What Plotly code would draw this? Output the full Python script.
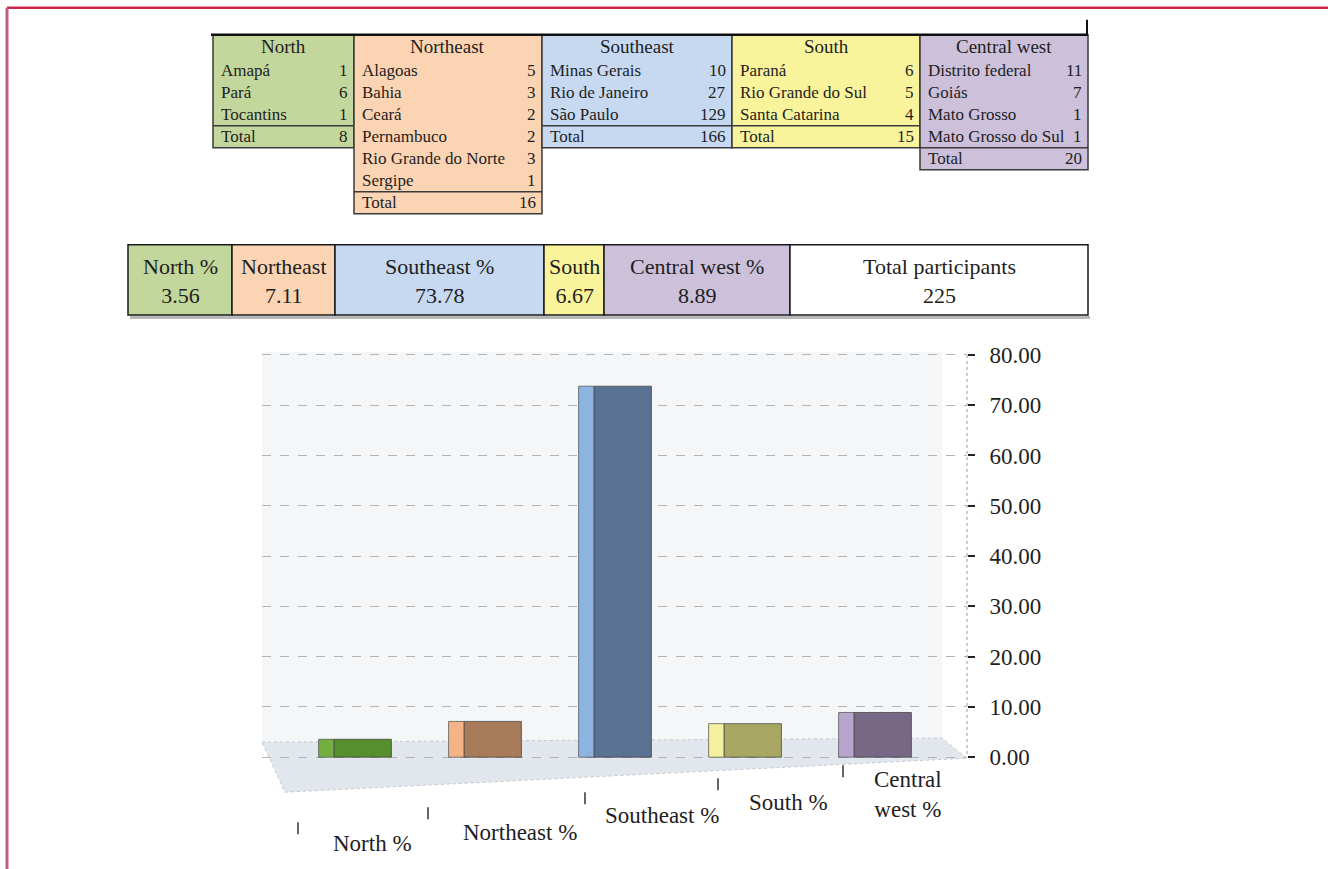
import plotly.graph_objects as go

# ---------------- data ----------------
regions = ["North", "Northeast", "Southeast", "South", "Central west"]
north_states = ["Amapá", "Pará", "Tocantins"]
north_counts = [1, 6, 1]
northeast_states = ["Alagoas", "Bahia", "Ceará", "Pernambuco", "Rio Grande do Norte", "Sergipe"]
northeast_counts = [5, 3, 2, 2, 3, 1]
southeast_states = ["Minas Gerais", "Rio de Janeiro", "São Paulo"]
southeast_counts = [10, 27, 129]
south_states = ["Paraná", "Rio Grande do Sul", "Santa Catarina"]
south_counts = [6, 5, 4]
central_west_states = ["Distrito federal", "Goiás", "Mato Grosso", "Mato Grosso do Sul"]
central_west_counts = [11, 7, 1, 1]
region_totals = [8, 16, 166, 15, 20]
total_participants = 225

summary_labels = ["North %", "Northeast", "Southeast %", "South", "Central west %", "Total participants"]

categories = ["North %", "Northeast %", "Southeast %", "South %", "Central west %"]
percentages = [3.56, 7.11, 73.78, 6.67, 8.89]
y_ticks = [0, 10, 20, 30, 40, 50, 60, 70, 80]

# ---------------- styles / layout ----------------
W, H = 1328, 869
FONT = "Liberation Serif"
TXT = "#1e1e1e"
table_fills = ["#c3d69b", "#fbd4b4", "#c6d9f1", "#f9f49c", "#ccc0da"]
bar_light = ["#74ae40", "#f5b487", "#8db3e2", "#f4f09e", "#b8a5ce"]
bar_dark = ["#558f2e", "#a87b5a", "#5a7291", "#a8a763", "#776986"]
table_edges = [213, 354, 542, 732, 920, 1088]
summary_edges = [128, 232, 335, 544, 604, 790, 1088]
label_pos = [(372, 843), (520, 832), (662, 815), (788, 802), (908, 794)]
tick_marks = [(298, 828), (428, 813), (585, 798), (718, 784), (843, 771)]
# the page photograph maps layout y to about 0.9913*y + 7.3; compensate
Y_SCALE, Y_SHIFT = 0.9913, 7.3


def px(x):
    return x / W


def py(y):
    yc = (y - Y_SHIFT) / Y_SCALE
    return 1 - yc / H


shapes = []
annotations = []


def rect(x0, y0, x1, y1, fill, line_color="#3a3a3a", lw=1.5, layer="below"):
    shapes.append(dict(type="rect", xref="paper", yref="paper",
                       x0=px(x0), x1=px(x1), y0=py(y1), y1=py(y0),
                       fillcolor=fill, line=dict(color=line_color, width=lw), layer=layer))


def hline(x0, x1, y, color="#3a3a3a", lw=1.5, dash="solid"):
    shapes.append(dict(type="line", xref="paper", yref="paper",
                       x0=px(x0), x1=px(x1), y0=py(y), y1=py(y),
                       line=dict(color=color, width=lw, dash=dash)))


def vline(x, y0, y1, color="#3a3a3a", lw=1.5, dash="solid"):
    shapes.append(dict(type="line", xref="paper", yref="paper",
                       x0=px(x), x1=px(x), y0=py(y0), y1=py(y1),
                       line=dict(color=color, width=lw, dash=dash)))


def text(x, y, s, size=17, anchor="center"):
    annotations.append(dict(xref="paper", yref="paper", x=px(x), y=py(y), text=s,
                            showarrow=False, xanchor=anchor, yanchor="middle",
                            font=dict(family=FONT, size=size, color=TXT)))


# page frame
shapes.append(dict(type="line", xref="paper", yref="paper", x0=px(7), x1=1, y0=0.999, y1=0.999,
                   line=dict(color="#c8284a", width=2.5)))
shapes.append(dict(type="line", xref="paper", yref="paper", x0=px(7), x1=px(7), y0=0, y1=0.999,
                   line=dict(color="#c0607e", width=3)))

# ---------------- region tables ----------------
state_lists = [north_states, northeast_states, southeast_states, south_states, central_west_states]
count_lists = [north_counts, northeast_counts, southeast_counts, south_counts, central_west_counts]
for k, (name, states, counts, total) in enumerate(zip(regions, state_lists, count_lists, region_totals)):
    x0, x1 = table_edges[k], table_edges[k + 1]
    n = len(states)
    bottom = 71 + 22 * n + 11
    rect(x0, 35, x1, bottom, table_fills[k])
    hline(x0, x1, 71 + 22 * n - 11)
    text((x0 + x1) / 2, 47, name, size=19)
    for i, (s, c) in enumerate(zip(states, counts)):
        text(x0 + 6, 71 + 22 * i, s, anchor="left")
        text(x1 - 4, 71 + 22 * i, str(c), anchor="right")
    text(x0 + 6, 71 + 22 * n, "Total", anchor="left")
    text(x1 - 4, 71 + 22 * n, str(total), anchor="right")
hline(211, 1088, 35, color="#111", lw=2.5)
vline(1087, 20, 35, color="#111", lw=2)

# ---------------- summary row ----------------
summary_values = [f"{p:.2f}" for p in percentages] + [str(total_participants)]
summary_fills = table_fills + ["#ffffff"]
rect(130, 316, 1090, 319, "#b8b8b8", line_color="rgba(0,0,0,0)", lw=0)
for k, (lab, val) in enumerate(zip(summary_labels, summary_values)):
    x0, x1 = summary_edges[k], summary_edges[k + 1]
    rect(x0, 245, x1, 315, summary_fills[k], line_color="#1a1a1a", lw=1.5)
    text((x0 + x1) / 2, 281, f"{lab}<br>{val}", size=22)

# ---------------- bar chart decorations ----------------
rect(262, 352, 942, 745, "#f4f6f7", line_color="rgba(0,0,0,0)", lw=0)
shapes.append(dict(type="path", xref="paper", yref="paper",
                   path=f"M {px(262)},{py(742)} L {px(942)},{py(738)} L {px(967)},{py(758)} "
                        f"L {px(285)},{py(792)} Z",
                   fillcolor="#e1e7ec", line=dict(color="#c3c9cf", width=1, dash="dot"), layer="below"))
vline(967, 355, 757, color="#9a9a9a", lw=1, dash="dot")
for (tx, ty) in tick_marks:
    vline(tx, ty - 6, ty + 6, color="#333", lw=1.5)

for (lx, ly), c in zip(label_pos, categories):
    text(lx, ly, c.replace("Central ", "Central<br>"), size=23)

# ---------------- bars ----------------
fig = go.Figure()
fig.add_trace(go.Bar(x=categories, y=percentages, width=0.12, offset=-0.28,
                     marker=dict(color=bar_light, line=dict(color="#4a4a4a", width=0.7)),
                     showlegend=False, hoverinfo="x+y"))
fig.add_trace(go.Bar(x=categories, y=percentages, width=0.44, offset=-0.16,
                     marker=dict(color=bar_dark, line=dict(color="#3a3a3a", width=0.7)),
                     showlegend=False, hoverinfo="x+y"))

y_bottom_px, y_top_px, zero_px, eighty_px = 790, 350, 757, 355
ppu = (zero_px - eighty_px) / 80.0
y_range = [-(y_bottom_px - zero_px) / ppu, 80 + (eighty_px - y_top_px) / ppu]
c0_px, step_px, xl_px, xr_px = 355, 130, 262, 967
x_range = [(xl_px - c0_px) / step_px, (xr_px - c0_px) / step_px]

fig.update_layout(
    width=W, height=H,
    margin=dict(l=0, r=0, t=0, b=0),
    paper_bgcolor="white",
    plot_bgcolor="rgba(0,0,0,0)",
    barmode="overlay",
    showlegend=False,
    shapes=shapes,
    annotations=annotations,
    xaxis=dict(domain=[px(xl_px), px(xr_px)], range=x_range, visible=False,
               categoryorder="array", categoryarray=categories),
    yaxis=dict(domain=[py(y_bottom_px), py(y_top_px)], range=y_range, side="right",
               tickvals=y_ticks, tickformat=".2f", ticks="outside", ticklen=7, tickwidth=2,
               tickcolor="#222", ticklabelstandoff=10,
               showgrid=True, gridcolor="#b3b3b3", griddash="dash", gridwidth=1,
               zeroline=False, showline=False,
               tickfont=dict(family=FONT, size=23, color=TXT)),
)

fig.write_html(
    "out.html",
    config={"displayModeBar": False},
    post_script=(
        "document.body.style.margin='0';document.body.style.overflow='hidden';"
        "var d=document.getElementById('{plot_id}');"
        "d.style.position='fixed';d.style.top='0px';d.style.left='0px';"
    ),
)
